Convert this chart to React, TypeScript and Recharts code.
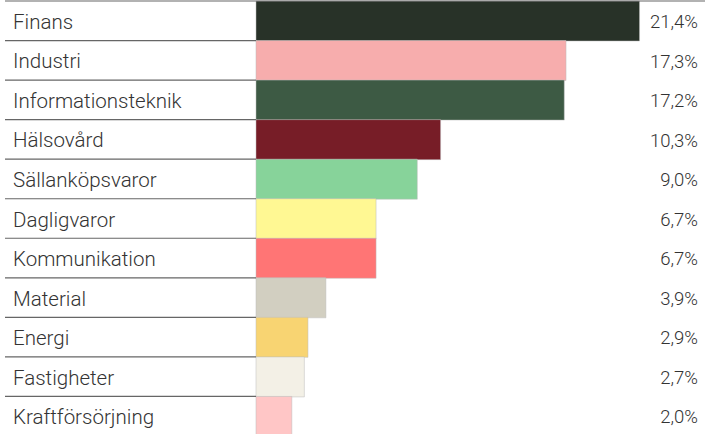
import { BarChart, Bar, XAxis, YAxis, Cell, LabelList } from "recharts";

/* ── Data ─────────────────────────────────────────────── */
const sectors = [
  "Finans",
  "Industri",
  "Informationsteknik",
  "Hälsovård",
  "Sällanköpsvaror",
  "Dagligvaror",
  "Kommunikation",
  "Material",
  "Energi",
  "Fastigheter",
  "Kraftförsörjning",
];
const shares = [21.4, 17.3, 17.2, 10.3, 9.0, 6.7, 6.7, 3.9, 2.9, 2.7, 2.0];
const barColors = [
  "#283228",
  "#f7adad",
  "#3d5a44",
  "#771d27",
  "#87d39a",
  "#fff893",
  "#ff7575",
  "#d2cfc1",
  "#f8d472",
  "#f3f0e6",
  "#ffc6c6",
];

const data = sectors.map((name, i) => ({ name, value: shares[i] }));

/* ── Layout ───────────────────────────────────────────── */
const WIDTH = 713;
const HEIGHT = 436;
const MARGIN = { top: 1, right: 0, bottom: 0, left: 0 };
const LABEL_W = 256;
const BAND = (HEIGHT - MARGIN.top - MARGIN.bottom) / sectors.length;
const FONT = "Roboto, 'Helvetica Neue', Arial, sans-serif";

const fmt = (v: number) => v.toFixed(1).replace(".", ",") + "%";

/* ── Category tick: label + row separator ─────────────── */
function SectorTick(props: any) {
  const { y, payload, index } = props;
  return (
    <g>
      {index === 0 && (
        <line
          x1={5}
          x2={WIDTH - 8}
          y1={y - BAND / 2}
          y2={y - BAND / 2}
          stroke="#666"
          strokeWidth={1.2}
        />
      )}
      <text
        x={13}
        y={y + 1}
        dominantBaseline="central"
        fontSize={20.5}
        fontWeight={300}
        fill="#333"
        fontFamily={FONT}
      >
        {payload.value}
      </text>
      <line
        x1={5}
        x2={LABEL_W}
        y1={y + BAND / 2}
        y2={y + BAND / 2}
        stroke="#666"
        strokeWidth={1.2}
      />
    </g>
  );
}

/* ── Value label at the right edge ────────────────────── */
function ShareLabel(props: any) {
  const { y, height, value } = props;
  return (
    <text
      x={WIDTH - 15}
      y={y + height / 2 + 1}
      textAnchor="end"
      dominantBaseline="central"
      fontSize={18.5}
      fontWeight={300}
      fill="#333"
      fontFamily={FONT}
    >
      {fmt(value)}
    </text>
  );
}

export default function App() {
  return (
    <div style={{ width: WIDTH, height: HEIGHT, background: "#fff" }}>
      <style>{"body{margin:0}"}</style>
      <BarChart
        width={WIDTH}
        height={HEIGHT}
        data={data}
        layout="vertical"
        margin={MARGIN}
        barCategoryGap={0}
      >
        <XAxis type="number" domain={[0, 25.5]} hide />
        <YAxis
          type="category"
          dataKey="name"
          width={LABEL_W}
          axisLine={false}
          tickLine={false}
          tick={<SectorTick />}
          interval={0}
        />
        <Bar
          dataKey="value"
          isAnimationActive={false}
          stroke="rgba(190,190,190,0.5)"
          strokeWidth={1}
        >
          {data.map((d, i) => (
            <Cell key={d.name} fill={barColors[i]} />
          ))}
          <LabelList dataKey="value" content={<ShareLabel />} />
        </Bar>
      </BarChart>
    </div>
  );
}
